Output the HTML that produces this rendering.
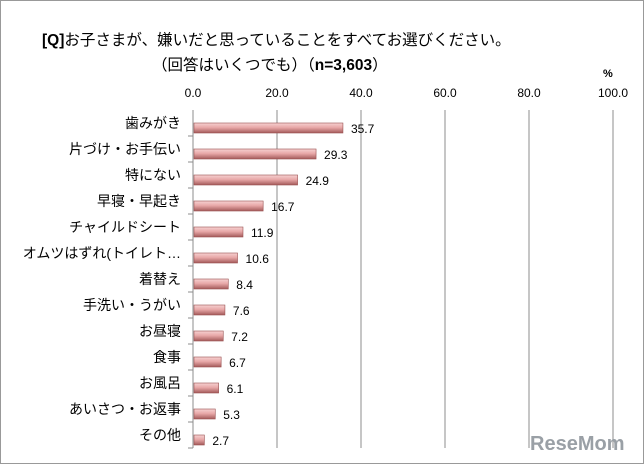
<!DOCTYPE html>
<html><head><meta charset="utf-8">
<style>
body{margin:0;background:#fff;}
#c{position:relative;width:644px;height:464px;overflow:hidden;font-family:"Liberation Sans","Noto Sans CJK JP",sans-serif;}
</style></head>
<body>
<div id="c">
<svg id="s" width="644" height="464">
<defs>
<linearGradient id="g" x1="0" y1="0" x2="0" y2="1">
<stop offset="0" stop-color="#f6d2d2"/><stop offset="0.45" stop-color="#e8a8a8"/><stop offset="1" stop-color="#a45a5a"/>
</linearGradient>
</defs>
<rect x="0.5" y="0.5" width="643" height="463" fill="#fff" stroke="#999"/>
<text x="42" y="45" font-size="15.5" fill="#000"><tspan font-weight="bold">[Q]</tspan>お子さまが、嫌いだと思っていることをすべてお選びください。</text>
<text x="152" y="70" font-size="15.5" fill="#000">（回答はいくつでも）（<tspan font-weight="bold">n=3,603</tspan>）</text>
<text x="603" y="77" font-size="11" font-weight="bold">%</text>
<g id="grid"></g><g id="bars"></g>
</svg>
</div>
<script>
const categories=["歯みがき","片づけ・お手伝い","特にない","早寝・早起き","チャイルドシート","オムツはずれ(トイレト…","着替え","手洗い・うがい","お昼寝","食事","お風呂","あいさつ・お返事","その他"];
const values=[35.7,29.3,24.9,16.7,11.9,10.6,8.4,7.6,7.2,6.7,6.1,5.3,2.7];
const ticks=[0,20,40,60,80,100];
const tickLabels=["0.0","20.0","40.0","60.0","80.0","100.0"];
const NS="http://www.w3.org/2000/svg";
const X0=193,X1=613,YT=110,YB=448;
const band=(YB-YT)/categories.length;
const xs=v=>X0+(v/100)*(X1-X0);
function mk(t,a,p){const e=document.createElementNS(NS,t);for(const k in a)e.setAttribute(k,a[k]);p.appendChild(e);return e;}
const grid=document.getElementById('grid'),bars=document.getElementById('bars');
ticks.forEach((t,i)=>{
  if(i>0){const l=mk('line',{x1:xs(t),x2:xs(t),y1:YT,y2:YB,stroke:'#8c8c8c','stroke-width':1},grid);
  
  }
  const tx=mk('text',{x:xs(t),y:97,'font-size':12,'text-anchor':'middle',fill:'#000'},grid);
  tx.textContent=tickLabels[i];
  
  
});
const ax=mk('line',{x1:X0,x2:X0,y1:YT,y2:YB,stroke:'#8c8c8c'},grid);


categories.forEach((c,i)=>{
  const yb=YT+band*(i+1);
  mk('line',{x1:X0-5,x2:X0,y1:yb,y2:yb,stroke:'#8c8c8c'},grid);
  const cy=YT+band*i+band/2+5;
  const r=mk('rect',{x:X0+1,y:cy-5,width:xs(values[i])-X0-1,height:10,fill:'url(#g)',stroke:'#9a5050','stroke-width':0.6},bars);
  
  
  const v=mk('text',{x:xs(values[i])+8,y:cy+5,'font-size':12,fill:'#000'},bars);
  v.textContent=values[i].toFixed(1);
  
  
  const lb=mk('text',{x:181,y:cy,'font-size':14,'text-anchor':'end',fill:'#000'},bars);
  lb.textContent=c;
  
  
});
const wm=mk('text',{x:530,y:450,'font-size':20,'font-weight':'bold',fill:'#9aa0a6'},document.getElementById('s'));
wm.textContent='ReseMom';


</script>
</body></html>
